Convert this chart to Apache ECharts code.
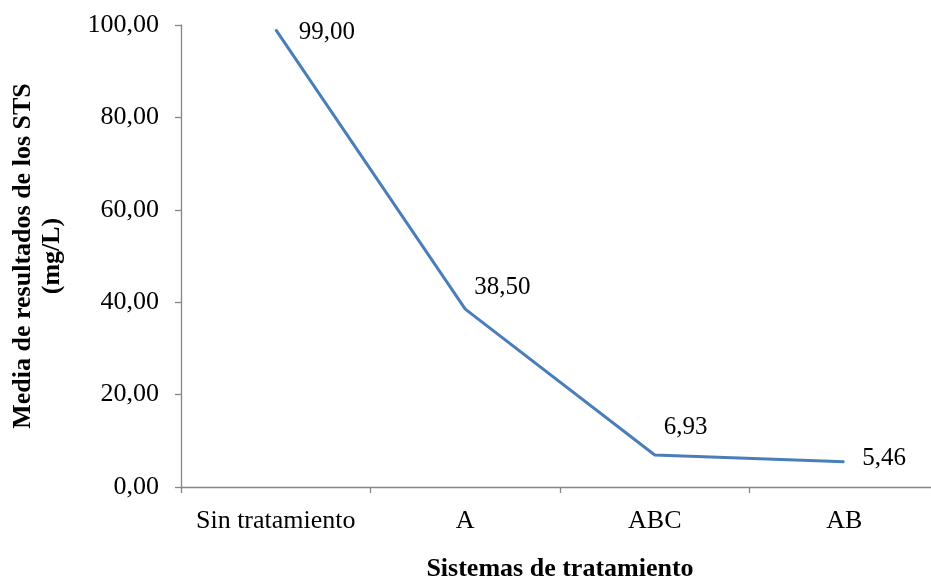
<!DOCTYPE html>
<html>
<head>
<meta charset="utf-8">
<script src="https://cdn.jsdelivr.net/npm/echarts@6/dist/echarts.min.js"></script>
<style>
  html, body { margin: 0; padding: 0; background: #fff; }
  #chart { width: 931px; height: 586px; }
</style>
</head>
<body>
<div id="chart"></div>
<script>
// Mean STS results per treatment system
const categories = ['Sin tratamiento', 'A', 'ABC', 'AB'];
const values = [99.00, 38.50, 6.93, 5.46];
const yTicks = [0, 20, 40, 60, 80, 100];

// label placement relative to each point [dx, dy]
const labelOffsets = [[23, 3], [9, -22], [9, -28], [18, -3]];

const FONT = "'Liberation Serif', 'Times New Roman', serif";
const FONT_SIZE = 26;
const AXIS_GREY = '#868686';
const LINE_BLUE = '#4a7ebb';

const fmt = v => v.toFixed(2).replace('.', ',');

const chart = echarts.init(document.getElementById('chart'), null, { renderer: 'canvas' });

chart.setOption({
  backgroundColor: '#ffffff',
  animation: false,
  grid: { left: 181, top: 25, width: 758, height: 462, containLabel: false, outerBoundsMode: 'none' },
  xAxis: {
    type: 'category',
    data: categories,
    boundaryGap: true,
    name: 'Sistemas de tratamiento',
    nameLocation: 'middle',
    nameGap: 69,
    nameTextStyle: { fontFamily: FONT, fontSize: FONT_SIZE, fontWeight: 'bold', color: '#000' },
    axisLine: { show: true, lineStyle: { color: AXIS_GREY, width: 1.3 } },
    axisTick: { show: true, interval: 0, length: 6, inside: false, lineStyle: { color: AXIS_GREY, width: 1.3 } },
    axisLabel: { interval: 0, hideOverlap: false, fontFamily: FONT, fontSize: FONT_SIZE, color: '#000', margin: 21 },
    splitLine: { show: false }
  },
  yAxis: {
    type: 'value',
    min: yTicks[0],
    max: yTicks[yTicks.length - 1],
    interval: yTicks[1] - yTicks[0],
    name: 'Media de resultados de los STS\n(mg/L)',
    nameLocation: 'middle',
    nameRotate: 90,
    nameGap: 114,
    nameTextStyle: { fontFamily: FONT, fontSize: FONT_SIZE, fontWeight: 'bold', color: '#000', lineHeight: 29 },
    axisLine: { show: true, lineStyle: { color: AXIS_GREY, width: 1.3 } },
    axisTick: { show: true, length: 6, inside: false, lineStyle: { color: AXIS_GREY, width: 1.3 } },
    axisLabel: { fontFamily: FONT, fontSize: FONT_SIZE, color: '#000', margin: 22, formatter: fmt },
    splitLine: { show: false }
  },
  series: [{
    type: 'line',
    data: values.map((v, i) => ({
      value: v,
      label: { offset: labelOffsets[i] }
    })),
    symbol: 'circle',
    symbolSize: 1,
    showSymbol: true,
    itemStyle: { color: LINE_BLUE },
    lineStyle: { color: LINE_BLUE, width: 3 },
    label: {
      show: true,
      position: 'inside',
      align: 'left',
      verticalAlign: 'middle',
      fontFamily: FONT,
      fontSize: 25,
      color: '#000',
      formatter: p => fmt(p.value)
    },
    emphasis: { disabled: true }
  }]
});
</script>
</body>
</html>
